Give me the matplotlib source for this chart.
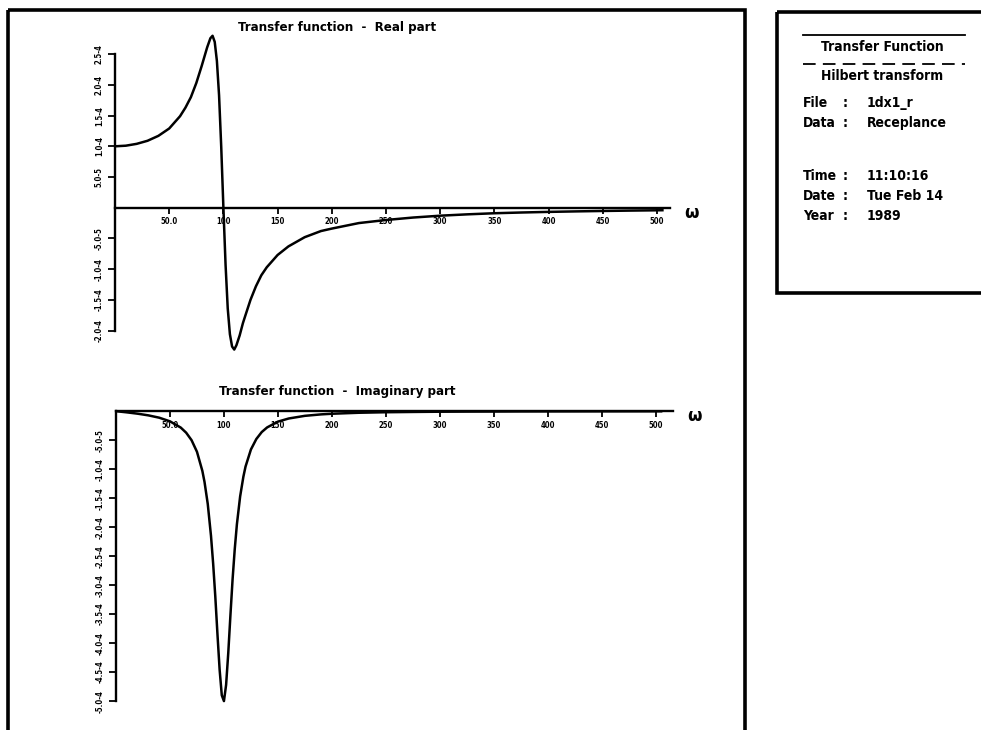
import matplotlib
matplotlib.use("Agg")
import matplotlib.pyplot as plt
from matplotlib.patches import Rectangle

# Frequency points (rad/s) and receptance of the single-dof model (x 1e-4)
omega = [0, 10, 20, 30, 40, 50, 60, 65, 70, 75, 80, 82, 85, 88, 90, 92, 94,
         96, 98, 100, 102, 104, 106, 108, 110, 112, 115, 118, 120, 125, 130,
         135, 140, 150, 160, 175, 190, 200, 225, 250, 275, 300, 325, 350,
         375, 400, 425, 450, 475, 505]
real_part = [1.00, 1.01, 1.04, 1.09, 1.17, 1.29, 1.49, 1.63, 1.80, 2.03,
             2.31, 2.43, 2.61, 2.76, 2.80, 2.70, 2.39, 1.83, 0.99, 0.00,
             -0.93, -1.64, -2.06, -2.26, -2.31, -2.24, -2.08, -1.88, -1.77,
             -1.50, -1.28, -1.10, -0.97, -0.77, -0.63, -0.48, -0.38, -0.34,
             -0.25, -0.20, -0.16, -0.13, -0.108, -0.09, -0.078, -0.068,
             -0.06, -0.053, -0.047, -0.041]
imag_part = [0.0, -0.020, -0.043, -0.072, -0.112, -0.175, -0.283, -0.371,
             -0.50, -0.70, -1.03, -1.22, -1.60, -2.15, -2.63, -3.20, -3.85,
             -4.46, -4.90, -5.00, -4.72, -4.17, -3.52, -2.90, -2.38, -1.95,
             -1.47, -1.13, -0.955, -0.66, -0.48, -0.36, -0.28, -0.18, -0.126,
             -0.08, -0.055, -0.044, -0.027, -0.018, -0.013, -0.009, -0.007,
             -0.006, -0.0045, -0.004, -0.0035, -0.003, -0.0025, -0.002]
scale = 1e-4

x_ticks = [50, 100, 150, 200, 250, 300, 350, 400, 450, 500]
x_labels = ["50.0", "100", "150", "200", "250", "300", "350", "400", "450", "500"]
re_ticks = [-2.0, -1.5, -1.0, -0.5, 0.5, 1.0, 1.5, 2.0, 2.5]
re_labels = ["-2.0-4", "-1.5-4", "-1.0-4", "-5.0-5", "5.0-5", "1.0-4",
             "1.5-4", "2.0-4", "2.5-4"]
im_ticks = [-0.5, -1.0, -1.5, -2.0, -2.5, -3.0, -3.5, -4.0, -4.5, -5.0]
im_labels = ["-5.0-5", "-1.0-4", "-1.5-4", "-2.0-4", "-2.5-4", "-3.0-4",
             "-3.5-4", "-4.0-4", "-4.5-4", "-5.0-4"]

info_head = ["Transfer Function", "Hilbert transform"]
info_keys = ["File", "Data", "Time", "Date", "Year"]
info_vals = ["1dx1_r", "Receplance", "11:10:16", "Tue Feb 14", "1989"]

W, H = 981, 730
FONT = dict(family="DejaVu Sans", fontweight="bold", fontstretch="condensed")

fig = plt.figure(figsize=(W / 100, H / 100), dpi=100)
fig.patch.set_facecolor("white")


def axes_px(left, top, right, bottom, **kw):
    return fig.add_axes([left / W, 1 - bottom / H, (right - left) / W,
                         (bottom - top) / H], **kw)


# overlay in pixel units for frames and the text block
ov = axes_px(0, 0, W, H, zorder=0)
ov.set_xlim(0, W)
ov.set_ylim(H, 0)
ov.axis("off")
ov.add_patch(Rectangle((8, 10), 737, 740, fill=False, lw=2.6, ec="black"))
ov.add_patch(Rectangle((777, 12), 215, 281, fill=False, lw=2.6, ec="black"))

ov.text(337, 28, "Transfer function  -  Real part", ha="center", va="center",
        fontsize=9.5, **FONT)
ov.text(337, 392, "Transfer function  -  Imaginary part", ha="center",
        va="center", fontsize=9.5, **FONT)

ov.plot([803, 965], [35, 35], color="black", lw=1.3)
ov.plot([803, 965], [64, 64], color="black", lw=1.3, ls=(0, (7, 4)))
ov.text(882, 47, info_head[0], ha="center", va="center", fontsize=10, **FONT)
ov.text(882, 76, info_head[1], ha="center", va="center", fontsize=10, **FONT)
rows_y = [103, 123, 176, 196, 216]
for key, val, yy in zip(info_keys, info_vals, rows_y):
    ov.text(803, yy, key, ha="left", va="center", fontsize=10, **FONT)
    ov.text(843, yy, ":", ha="left", va="center", fontsize=10, **FONT)
    ov.text(867, yy, val, ha="left", va="center", fontsize=10, **FONT)


def style_axes(ax, xmax, ybounds, yticks, ylabels):
    ax.patch.set_alpha(0)
    for side in ("top", "right"):
        ax.spines[side].set_visible(False)
    ax.spines["left"].set_position(("data", 0))
    ax.spines["bottom"].set_position(("data", 0))
    ax.spines["left"].set_bounds(*ybounds)
    ax.spines["bottom"].set_bounds(0, xmax)
    for side in ("left", "bottom"):
        ax.spines[side].set_linewidth(1.7)
    ax.set_xticks(x_ticks)
    ax.set_xticklabels(x_labels, fontsize=5.5, **FONT)
    ax.set_yticks([t * scale for t in yticks])
    ax.set_yticklabels(ylabels, fontsize=5.5, rotation=90, va="center",
                       **FONT)
    ax.tick_params(axis="x", direction="out", length=4, width=1.3, pad=3)
    ax.tick_params(axis="y", direction="out", length=5, width=1.3, pad=3)


# real part
ax1 = axes_px(115, 30, 670, 360, zorder=2)
ax1.plot(omega, [v * scale for v in real_part], color="black", lw=1.8)
ax1.set_xlim(0, 512)
ax1.set_ylim(-2.48e-4, 2.894e-4)
style_axes(ax1, 512, (-2.0e-4, 2.5e-4), re_ticks, re_labels)
ax1.text(525, -0.08e-4, "\u03c9", ha="left", va="center", fontsize=12,
         fontweight="bold")

# imaginary part
ax2 = axes_px(116, 400, 673, 715, zorder=2)
ax2.plot(omega, [v * scale for v in imag_part], color="black", lw=1.8)
ax2.set_xlim(0, 516)
ax2.set_ylim(-5.24e-4, 0.193e-4)
style_axes(ax2, 516, (-5.0e-4, 0.0), im_ticks, im_labels)
ax2.text(529, -0.08e-4, "\u03c9", ha="left", va="center", fontsize=12,
         fontweight="bold")

fig.savefig("out.png", dpi=100)
